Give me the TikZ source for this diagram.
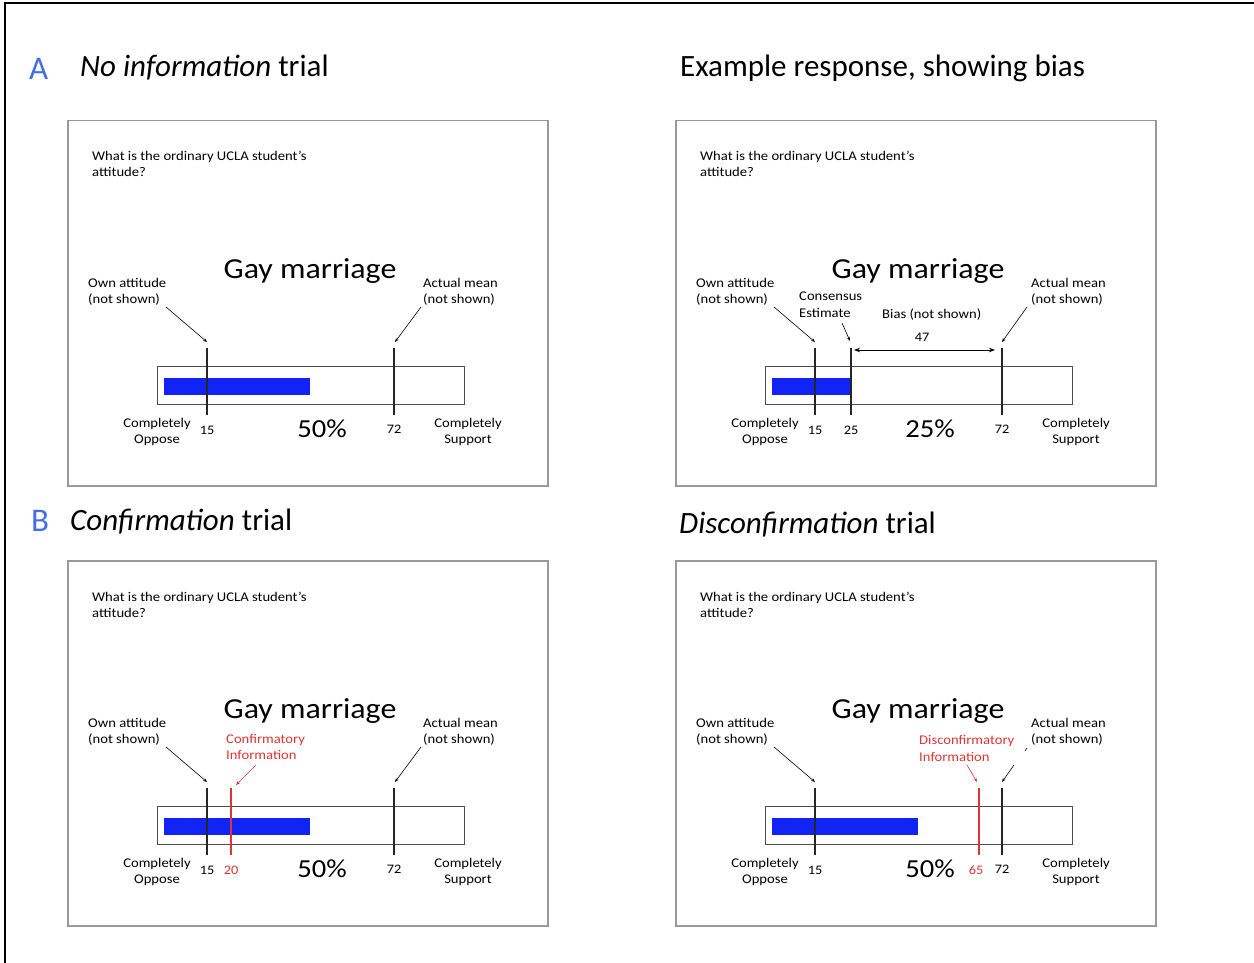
\documentclass[tikz,border=0pt]{standalone}
\usepackage{fontspec}
\setmainfont{Carlito}
\newfontfamily\pfont[FakeStretch=1.1]{Carlito}
\usetikzlibrary{arrows.meta}
\definecolor{barblue}{RGB}{18,36,245}
\definecolor{infored}{RGB}{222,52,52}
\definecolor{letterblue}{RGB}{66,110,230}
\newcommand\fsz[1]{\fontsize{#1}{#1}\selectfont}
\tikzset{
  title/.style={font=\fsz{31}, anchor=base west, inner sep=0pt},
  letter/.style={font=\fsz{33}, anchor=base west, inner sep=0pt, text=letterblue},
  qtext/.style={font=\pfont\fsz{13.3}, anchor=base west, inner sep=0pt},
  lbl/.style={font=\pfont\fsz{13.3}, inner sep=0pt},
  num/.style={font=\pfont\fsz{13}, anchor=base, inner sep=0pt},
  bigtext/.style={font=\pfont\fsz{29}, anchor=base, inner sep=0pt},
  pct/.style={font=\pfont\fsz{26}, anchor=base, inner sep=0pt},
  panelbox/.style={draw=black!40, line width=1.5pt, anchor=north west, minimum width=480pt, minimum height=365pt, inner sep=0pt},
  slider/.style={draw=black!70, line width=1pt, anchor=north west, minimum width=307pt, minimum height=38pt, inner sep=0pt},
  marker/.style={line width=1.1pt, black!85},
  redmarker/.style={line width=1.1pt, infored},
  ptr/.style={-{Stealth[length=4pt,width=3pt]}, line width=0.6pt},
  biasarrow/.style={{Stealth[length=6pt,width=4.5pt]}-{Stealth[length=6pt,width=4.5pt]}, line width=1pt}
}
% #1 name prefix, #2 blue bar end, #3 percent text
\newcommand\basepanel[3]{%
  \node[panelbox] (#1box) at (67,120) {};
  \node[qtext] (#1q1) at (92,161) {What is the ordinary UCLA student’s};
  \node[qtext] (#1q2) at (92,177) {attitude?};
  \node[bigtext] (#1gm) at (310,278) {Gay marriage};
  \node[lbl, anchor=base west] (#1own1) at (88,287) {Own attitude};
  \node[lbl, anchor=base west] (#1own2) at (88,303) {(not shown)};
  \node[lbl, anchor=base west] (#1act1) at (423,287) {Actual mean};
  \node[lbl, anchor=base west] (#1act2) at (423,303) {(not shown)};
  \node[slider] (#1sl) at (157,366) {};
  \fill[barblue] (164,378) rectangle (#2,395);
  \draw[marker] (207,348) -- (207,415);
  \draw[marker] (394,348) -- (394,415);
  \coordinate (#1ownS) at (166,307);
  \coordinate (#1ownE) at (207,342);
  \draw[ptr] (#1ownS) -- (#1ownE);
  \node[lbl, anchor=base] (#1co1) at (157,427) {Completely};
  \node[lbl, anchor=base] (#1co2) at (157,443) {Oppose};
  \node[lbl, anchor=base] (#1cs1) at (468,427) {Completely};
  \node[lbl, anchor=base] (#1cs2) at (468,443) {Support};
  \node[num] (#1n15) at (207,434) {15};
  \node[num] (#1n72) at (394,433) {72};
  \node[pct] (#1pct) at (322,437) {#3};
}
\begin{document}
\begin{tikzpicture}[x=1pt,y=-1pt]
\useasboundingbox (0,0) rectangle (1254,963);
\fill[white] (0,0) rectangle (1254,963);
\draw[line width=2.2pt] (5,963) -- (5,3) -- (1254,3);

% titles
\node[letter] (lA) at (29,80) {A};
\node[title] (tA) at (80,77) {\textit{No information} trial};
\node[title] (tA2) at (680,77) {Example response, showing bias};
\node[letter] (lB) at (31,531) {B};
\node[title] (tB) at (70,530) {\textit{Confirmation} trial};
\node[title] (tB2) at (679,533) {\textit{Disconfirmation} trial};

% Panel A
\begin{scope}
  \basepanel{a}{310}{50\%}
  \coordinate (aactS) at (421,307);
  \coordinate (aactE) at (395,342);
  \draw[ptr] (aactS) -- (aactE);
\end{scope}

% Panel example response
\begin{scope}[shift={(608,0)}]
  \basepanel{e}{243}{25\%}
  \coordinate (eactS) at (419,307);
  \coordinate (eactE) at (394,342);
  \draw[ptr] (eactS) -- (eactE);
  \draw[marker] (243,348) -- (243,415);
  \node[lbl, anchor=base west] (econs1) at (191,300) {Consensus};
  \node[lbl, anchor=base west] (econs2) at (191,317) {Estimate};
  \coordinate (econsS) at (234,323);
  \coordinate (econsE) at (242,341);
  \draw[ptr] (econsS) -- (econsE);
  \node[lbl, anchor=base west] (ebias) at (274,318) {Bias (not shown)};
  \node[num] (e47) at (314,341) {47};
  \coordinate (ebiasL) at (246,350);
  \coordinate (ebiasR) at (387,350);
  \draw[biasarrow] (ebiasL) -- (ebiasR);
  \node[num] (en25) at (243,434) {25};
\end{scope}

% Panel confirmation
\begin{scope}[shift={(0,440)}]
  \basepanel{c}{310}{50\%}
  \coordinate (cactS) at (421,307);
  \coordinate (cactE) at (395,342);
  \draw[ptr] (cactS) -- (cactE);
  \draw[redmarker] (231,348) -- (231,415);
  \node[lbl, anchor=base west, text=infored] (cinf1) at (226,303) {Confirmatory};
  \node[lbl, anchor=base west, text=infored] (cinf2) at (226,319) {Information};
  \coordinate (cinfS) at (256,325);
  \coordinate (cinfE) at (236,345);
  \draw[ptr, infored] (cinfS) -- (cinfE);
  \node[num, text=infored] (cn20) at (231,434) {20};
\end{scope}

% Panel disconfirmation
\begin{scope}[shift={(608,440)}]
  \basepanel{d}{310}{50\%}
  \coordinate (dactS) at (419,308);
  \coordinate (dactM) at (417,311);
  \coordinate (dactR) at (406,325);
  \coordinate (dactE) at (394,342);
  \draw[line width=0.6pt] (dactS) -- (dactM);
  \draw[ptr] (dactR) -- (dactE);
  \draw[redmarker] (371,348) -- (371,415);
  \node[lbl, anchor=base west, text=infored] (dinf1) at (311,304) {Disconfirmatory};
  \node[lbl, anchor=base west, text=infored] (dinf2) at (311,321) {Information};
  \coordinate (dinfS) at (359,325);
  \coordinate (dinfE) at (369,342);
  \draw[ptr, infored] (dinfS) -- (dinfE);
  \node[num, text=infored] (dn65) at (368,434) {65};
\end{scope}
\end{tikzpicture}
\end{document}
